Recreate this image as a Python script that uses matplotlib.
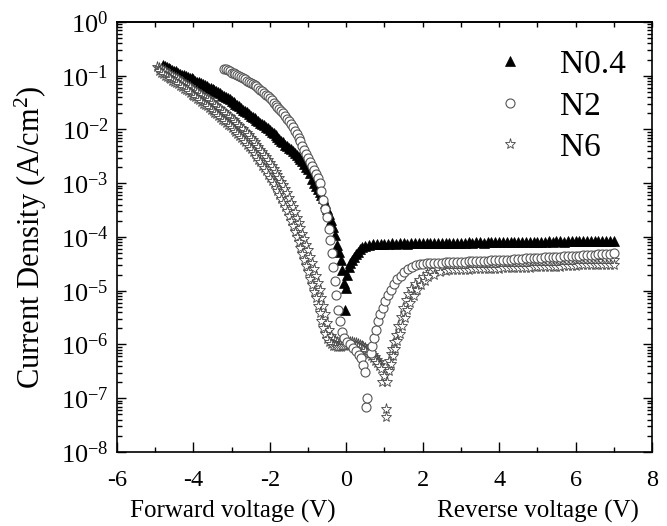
import numpy as np
import matplotlib
matplotlib.use("Agg")
import matplotlib.pyplot as plt
from matplotlib.ticker import LogLocator, MultipleLocator, NullFormatter
from matplotlib.lines import Line2D

plt.rcParams['font.family'] = ['Liberation Serif', 'DejaVu Serif']
plt.rcParams['mathtext.fontset'] = 'custom'
plt.rcParams['mathtext.rm'] = 'Liberation Serif'
plt.rcParams['mathtext.it'] = 'Liberation Serif:italic'
plt.rcParams['axes.unicode_minus'] = False

# DATA: voltage (V) and log10 of current density (A/cm2) #
v_n04 = [-4.80, -4.75, -4.70, -4.65, -4.60, -4.55, -4.50, -4.45, -4.40, -4.35,
         -4.30, -4.25, -4.20, -4.15, -4.10, -4.05, -4.00, -3.95, -3.90, -3.85,
         -3.80, -3.75, -3.70, -3.65, -3.60, -3.55, -3.50, -3.45, -3.40, -3.35,
         -3.30, -3.25, -3.20, -3.15, -3.10, -3.05, -3.00, -2.95, -2.90, -2.85,
         -2.80, -2.75, -2.70, -2.65, -2.60, -2.55, -2.50, -2.45, -2.40, -2.35,
         -2.30, -2.25, -2.20, -2.15, -2.10, -2.05, -2.00, -1.95, -1.90, -1.85,
         -1.80, -1.75, -1.70, -1.65, -1.60, -1.55, -1.50, -1.45, -1.40, -1.35,
         -1.30, -1.25, -1.20, -1.15, -1.10, -1.05, -1.00, -0.95, -0.90, -0.85,
         -0.80, -0.75, -0.70, -0.65, -0.60, -0.55, -0.50, -0.45, -0.40, -0.35,
         -0.30, -0.25, -0.20, -0.15, -0.10, -0.05, -0.03, 0.00, 0.03, 0.06,
         0.10, 0.15, 0.20, 0.25, 0.30, 0.35, 0.40, 0.50, 0.60, 0.70,
         0.80, 0.90, 1.0, 1.1, 1.2, 1.3, 1.4, 1.5, 1.6, 1.7,
         1.8, 1.9, 2.0, 2.1, 2.2, 2.3, 2.4, 2.5, 2.6, 2.7,
         2.8, 2.9, 3.0, 3.1, 3.2, 3.3, 3.4, 3.5, 3.6, 3.7,
         3.8, 3.9, 4.0, 4.1, 4.2, 4.3, 4.4, 4.5, 4.6, 4.7,
         4.8, 4.9, 5.0, 5.1, 5.2, 5.3, 5.4, 5.5, 5.6, 5.7,
         5.8, 5.9, 6.0, 6.1, 6.2, 6.3, 6.4, 6.5, 6.6, 6.7,
         6.8, 6.9, 7.0]
logj_n04 = [-0.80, -0.82, -0.84, -0.85, -0.87, -0.89, -0.91, -0.92, -0.94, -0.96,
            -0.98, -0.99, -1.01, -1.02, -1.04, -1.05, -1.07, -1.09, -1.11, -1.12,
            -1.14, -1.16, -1.18, -1.20, -1.22, -1.23, -1.25, -1.27, -1.29, -1.31,
            -1.33, -1.35, -1.38, -1.40, -1.42, -1.44, -1.47, -1.49, -1.52, -1.54,
            -1.57, -1.60, -1.63, -1.65, -1.68, -1.71, -1.74, -1.76, -1.79, -1.82,
            -1.85, -1.87, -1.90, -1.92, -1.95, -1.98, -2.01, -2.04, -2.07, -2.10,
            -2.14, -2.17, -2.21, -2.24, -2.28, -2.31, -2.34, -2.37, -2.40, -2.43,
            -2.47, -2.51, -2.55, -2.59, -2.64, -2.69, -2.74, -2.81, -2.92, -3.00,
            -3.06, -3.11, -3.16, -3.21, -3.27, -3.37, -3.47, -3.57, -3.68, -3.82,
            -3.97, -4.15, -4.28, -4.42, -4.62, -4.85, -5.36, -4.95, -4.70, -4.56,
            -4.49, -4.43, -4.37, -4.31, -4.27, -4.23, -4.19, -4.16, -4.14, -4.13,
            -4.13, -4.13, -4.13, -4.13, -4.12, -4.13, -4.12, -4.12, -4.13, -4.12,
            -4.12, -4.12, -4.12, -4.12, -4.11, -4.12, -4.11, -4.11, -4.12, -4.11,
            -4.11, -4.11, -4.11, -4.11, -4.10, -4.11, -4.10, -4.10, -4.11, -4.10,
            -4.10, -4.10, -4.10, -4.10, -4.10, -4.09, -4.10, -4.09, -4.09, -4.10,
            -4.09, -4.09, -4.09, -4.09, -4.09, -4.08, -4.09, -4.08, -4.08, -4.09,
            -4.08, -4.08, -4.08, -4.08, -4.08, -4.07, -4.08, -4.07, -4.07, -4.08,
            -4.07, -4.07, -4.07]

v_n2 = [-3.20, -3.15, -3.10, -3.05, -3.00, -2.95, -2.90, -2.85, -2.80, -2.75,
        -2.70, -2.65, -2.60, -2.55, -2.50, -2.45, -2.40, -2.35, -2.30, -2.25,
        -2.20, -2.15, -2.10, -2.05, -2.00, -1.95, -1.90, -1.85, -1.80, -1.75,
        -1.70, -1.65, -1.60, -1.55, -1.50, -1.45, -1.40, -1.35, -1.30, -1.25,
        -1.20, -1.15, -1.10, -1.05, -1.00, -0.95, -0.90, -0.85, -0.80, -0.75,
        -0.70, -0.65, -0.60, -0.55, -0.50, -0.46, -0.42, -0.38, -0.34, -0.30,
        -0.26, -0.22, -0.17, -0.11, -0.05, 0.02, 0.10, 0.18, 0.25, 0.32,
        0.38, 0.44, 0.49, 0.52, 0.54, 0.64, 0.68, 0.72, 0.77, 0.83,
        0.89, 0.95, 1.02, 1.09, 1.16, 1.24, 1.33, 1.42, 1.52, 1.62,
        1.72, 1.82, 1.92, 2.0, 2.1, 2.2, 2.3, 2.4, 2.5, 2.6,
        2.7, 2.8, 2.9, 3.0, 3.1, 3.2, 3.3, 3.4, 3.5, 3.6,
        3.7, 3.8, 3.9, 4.0, 4.1, 4.2, 4.3, 4.4, 4.5, 4.6,
        4.7, 4.8, 4.9, 5.0, 5.1, 5.2, 5.3, 5.4, 5.5, 5.6,
        5.7, 5.8, 5.9, 6.0, 6.1, 6.2, 6.3, 6.4, 6.5, 6.6,
        6.7, 6.8, 6.9, 7.0]
logj_n2 = [-0.87, -0.88, -0.90, -0.92, -0.94, -0.95, -0.97, -0.99, -1.01, -1.03,
           -1.05, -1.07, -1.09, -1.11, -1.13, -1.15, -1.18, -1.20, -1.23, -1.26,
           -1.29, -1.32, -1.35, -1.38, -1.42, -1.46, -1.50, -1.54, -1.58, -1.62,
           -1.66, -1.70, -1.75, -1.80, -1.85, -1.90, -1.96, -2.02, -2.08, -2.15,
           -2.22, -2.30, -2.38, -2.45, -2.53, -2.60, -2.67, -2.75, -2.83, -2.91,
           -3.00, -3.15, -3.32, -3.48, -3.63, -3.85, -4.06, -4.30, -4.55, -4.82,
           -5.08, -5.35, -5.57, -5.77, -5.88, -5.95, -6.00, -6.06, -6.12, -6.19,
           -6.26, -6.38, -6.51, -7.16, -7.00, -6.15, -6.02, -5.88, -5.73, -5.57,
           -5.44, -5.32, -5.20, -5.08, -4.98, -4.88, -4.79, -4.72, -4.65, -4.60,
           -4.56, -4.53, -4.51, -4.50, -4.49, -4.49, -4.48, -4.48, -4.48, -4.47,
           -4.47, -4.47, -4.46, -4.46, -4.46, -4.45, -4.45, -4.45, -4.44, -4.44,
           -4.44, -4.43, -4.43, -4.43, -4.42, -4.42, -4.42, -4.41, -4.41, -4.41,
           -4.40, -4.40, -4.40, -4.39, -4.39, -4.38, -4.38, -4.38, -4.37, -4.37,
           -4.36, -4.36, -4.36, -4.35, -4.35, -4.34, -4.34, -4.33, -4.33, -4.32,
           -4.32, -4.31, -4.31, -4.30]

# N6 shows two sweeps running side by side
v_n6_a = [-4.95, -4.90, -4.85, -4.80, -4.75, -4.70, -4.65, -4.60, -4.55, -4.50,
          -4.45, -4.40, -4.35, -4.30, -4.25, -4.20, -4.15, -4.10, -4.05, -4.00,
          -3.95, -3.90, -3.85, -3.80, -3.75, -3.70, -3.65, -3.60, -3.55, -3.50,
          -3.45, -3.40, -3.35, -3.30, -3.25, -3.20, -3.15, -3.10, -3.05, -3.00,
          -2.95, -2.90, -2.85, -2.80, -2.75, -2.70, -2.65, -2.60, -2.55, -2.50,
          -2.45, -2.40, -2.35, -2.30, -2.25, -2.20, -2.15, -2.10, -2.05, -2.00,
          -1.95, -1.90, -1.85, -1.80, -1.75, -1.70, -1.65, -1.60, -1.55, -1.50,
          -1.45, -1.40, -1.35, -1.30, -1.25, -1.20, -1.15, -1.10, -1.05, -1.00,
          -0.95, -0.90, -0.85, -0.80, -0.75, -0.70, -0.65, -0.60, -0.55, -0.50,
          -0.45, -0.40, -0.35, -0.30, -0.25, -0.20, -0.15, -0.10, -0.05, 0.00,
          0.05, 0.10, 0.15, 0.20, 0.25, 0.30, 0.35, 0.40, 0.45, 0.50,
          0.55, 0.60, 0.65, 0.70, 0.75, 0.80, 0.85, 0.88, 0.94, 1.04,
          1.08, 1.12, 1.16, 1.20, 1.25, 1.30, 1.36, 1.42, 1.48, 1.55,
          1.62, 1.70, 1.80, 1.90, 2.0, 2.1, 2.2, 2.3, 2.4, 2.5,
          2.6, 2.7, 2.8, 2.9, 3.0, 3.1, 3.2, 3.3, 3.4, 3.5,
          3.6, 3.7, 3.8, 3.9, 4.0, 4.1, 4.2, 4.3, 4.4, 4.5,
          4.6, 4.7, 4.8, 4.9, 5.0, 5.1, 5.2, 5.3, 5.4, 5.5,
          5.6, 5.7, 5.8, 5.9, 6.0, 6.1, 6.2, 6.3, 6.4, 6.5,
          6.6, 6.7, 6.8, 6.9, 7.0]
logj_n6_a = [-0.84, -0.85, -0.87, -0.89, -0.92, -0.94, -0.96, -0.98, -1.01, -1.03,
             -1.05, -1.07, -1.10, -1.12, -1.15, -1.17, -1.19, -1.21, -1.24, -1.26,
             -1.29, -1.31, -1.34, -1.36, -1.39, -1.41, -1.44, -1.46, -1.49, -1.51,
             -1.54, -1.57, -1.60, -1.62, -1.65, -1.68, -1.71, -1.74, -1.77, -1.80,
             -1.83, -1.86, -1.90, -1.93, -1.97, -2.00, -2.04, -2.07, -2.11, -2.15,
             -2.20, -2.24, -2.29, -2.33, -2.38, -2.42, -2.47, -2.52, -2.57, -2.62,
             -2.68, -2.73, -2.79, -2.85, -2.91, -2.97, -3.04, -3.11, -3.19, -3.27,
             -3.36, -3.45, -3.54, -3.64, -3.74, -3.84, -3.94, -4.04, -4.14, -4.25,
             -4.37, -4.49, -4.60, -4.72, -4.85, -4.98, -5.13, -5.28, -5.44, -5.60,
             -5.73, -5.84, -5.90, -5.94, -5.96, -5.97, -5.97, -5.97, -5.96, -5.96,
             -5.95, -5.95, -5.96, -5.97, -5.98, -6.00, -6.01, -6.03, -6.05, -6.07,
             -6.10, -6.13, -6.16, -6.20, -6.24, -6.28, -6.33, -6.38, -6.70, -7.20,
             -6.45, -6.30, -6.18, -6.08, -5.95, -5.82, -5.65, -5.48, -5.32, -5.18,
             -5.06, -4.96, -4.87, -4.80, -4.74, -4.69, -4.65, -4.62, -4.60, -4.58,
             -4.57, -4.56, -4.56, -4.56, -4.55, -4.55, -4.55, -4.54, -4.54, -4.54,
             -4.53, -4.53, -4.53, -4.52, -4.52, -4.52, -4.51, -4.51, -4.51, -4.50,
             -4.50, -4.50, -4.49, -4.49, -4.49, -4.48, -4.48, -4.48, -4.47, -4.47,
             -4.47, -4.46, -4.46, -4.46, -4.45, -4.45, -4.45, -4.45, -4.44, -4.44,
             -4.44, -4.44, -4.43, -4.43, -4.43]

v_n6_b = [-4.90, -4.85, -4.80, -4.75, -4.70, -4.65, -4.60, -4.55, -4.50, -4.45,
          -4.40, -4.35, -4.30, -4.25, -4.20, -4.15, -4.10, -4.05, -4.00, -3.95,
          -3.90, -3.85, -3.80, -3.75, -3.70, -3.65, -3.60, -3.55, -3.50, -3.45,
          -3.40, -3.35, -3.30, -3.25, -3.20, -3.15, -3.10, -3.05, -3.00, -2.95,
          -2.90, -2.85, -2.80, -2.75, -2.70, -2.65, -2.60, -2.55, -2.50, -2.45,
          -2.40, -2.35, -2.30, -2.25, -2.20, -2.15, -2.10, -2.05, -2.00, -1.95,
          -1.90, -1.85, -1.80, -1.75, -1.70, -1.65, -1.60, -1.55, -1.50, -1.45,
          -1.40, -1.35, -1.30, -1.25, -1.20, -1.15, -1.10, -1.05, -1.00, -0.95,
          -0.90, -0.85, -0.80, -0.75, -0.70, -0.65, -0.60, -0.55, -0.50, -0.45,
          -0.40, -0.35, -0.30, -0.25, -0.20, -0.15, -0.10, -0.05, 0.00, 0.05,
          0.10, 0.15, 0.20, 0.25, 0.30, 0.35, 0.40, 0.45, 0.50, 0.55,
          0.60, 0.65, 0.70, 0.75, 0.80, 0.85, 0.90, 0.98, 1.04, 1.07,
          1.12, 1.17, 1.22, 1.28, 1.34, 1.40, 1.46, 1.53, 1.60, 1.68,
          1.76, 1.85, 1.95, 2.05, 2.15, 2.3, 2.45, 2.6, 2.7, 2.8,
          2.9, 3.0, 3.1, 3.2, 3.3, 3.4, 3.5, 3.6, 3.7, 3.8,
          3.9, 4.0, 4.1, 4.2, 4.3, 4.4, 4.5, 4.6, 4.7, 4.8,
          4.9, 5.0, 5.1, 5.2, 5.3, 5.4, 5.5, 5.6, 5.7, 5.8,
          5.9, 6.0, 6.1, 6.2, 6.3, 6.4, 6.5, 6.6, 6.7, 6.8,
          6.9, 7.0]
logj_n6_b = [-0.92, -0.95, -0.97, -1.00, -1.02, -1.05, -1.07, -1.09, -1.11, -1.14,
             -1.16, -1.19, -1.21, -1.24, -1.27, -1.29, -1.32, -1.35, -1.38, -1.40,
             -1.43, -1.46, -1.49, -1.52, -1.55, -1.57, -1.60, -1.63, -1.66, -1.69,
             -1.72, -1.75, -1.79, -1.82, -1.85, -1.88, -1.91, -1.94, -1.98, -2.01,
             -2.05, -2.08, -2.12, -2.16, -2.20, -2.24, -2.28, -2.32, -2.37, -2.41,
             -2.46, -2.51, -2.56, -2.61, -2.67, -2.72, -2.78, -2.84, -2.90, -2.96,
             -3.02, -3.08, -3.15, -3.22, -3.29, -3.36, -3.44, -3.52, -3.61, -3.70,
             -3.80, -3.90, -4.00, -4.10, -4.21, -4.32, -4.43, -4.54, -4.66, -4.78,
             -4.90, -5.02, -5.14, -5.28, -5.42, -5.56, -5.70, -5.81, -5.90, -5.96,
             -6.00, -6.02, -6.03, -6.04, -6.04, -6.04, -6.03, -6.03, -6.02, -6.01,
             -6.01, -6.01, -6.02, -6.03, -6.05, -6.07, -6.09, -6.11, -6.13, -6.15,
             -6.18, -6.22, -6.26, -6.30, -6.35, -6.40, -6.45, -6.58, -7.35, -6.70,
             -6.50, -6.36, -6.22, -6.08, -5.94, -5.80, -5.65, -5.50, -5.36, -5.22,
             -5.10, -4.99, -4.89, -4.81, -4.75, -4.70, -4.66, -4.63, -4.62, -4.62,
             -4.62, -4.61, -4.61, -4.61, -4.60, -4.60, -4.60, -4.60, -4.59, -4.59,
             -4.59, -4.59, -4.58, -4.58, -4.58, -4.58, -4.57, -4.57, -4.57, -4.57,
             -4.56, -4.56, -4.56, -4.56, -4.55, -4.55, -4.55, -4.55, -4.54, -4.54,
             -4.54, -4.54, -4.53, -4.53, -4.53, -4.53, -4.52, -4.52, -4.52, -4.52,
             -4.52, -4.52]

labels = ['N0.4', 'N2', 'N6']
x_ticks = [-6, -4, -2, 0, 2, 4, 6, 8]

for v, j in [(v_n04, logj_n04), (v_n2, logj_n2), (v_n6_a, logj_n6_a), (v_n6_b, logj_n6_b)]:
    assert len(v) == len(j), (len(v), len(j))

# PLOT #
fig = plt.figure(figsize=(6.67, 5.26), dpi=100)
ax = fig.add_axes([0.1754, 0.1407, 0.8021, 0.8175])

tri = dict(marker='^', ms=7, mfc='black', mec='black', mew=0.5, ls='none')
circ = dict(marker='o', ms=6.5, mfc='white', mec='#555555', mew=0.8, ls='none')
star = dict(marker='*', ms=8, mfc='white', mec='#444444', mew=0.6, ls='none')

ax.plot(v_n04, 10 ** np.array(logj_n04), zorder=2, **tri)
ax.plot(v_n6_a, 10 ** np.array(logj_n6_a), zorder=3, **star)
ax.plot(v_n6_b, 10 ** np.array(logj_n6_b), zorder=3, **star)
ax.plot(v_n2, 10 ** np.array(logj_n2), zorder=4, **circ)

ax.set_yscale('log')
ax.set_ylim(1e-8, 1)
ax.set_xlim(-6, 8)
ax.set_xticks(x_ticks)
ax.set_xticklabels([str(t) for t in x_ticks])
ax.xaxis.set_minor_locator(MultipleLocator(1))
ax.yaxis.set_major_locator(LogLocator(base=10, numticks=20))
ax.yaxis.set_minor_locator(LogLocator(base=10, subs=np.arange(2, 10), numticks=20))
ax.yaxis.set_minor_formatter(NullFormatter())

for s in ax.spines.values():
    s.set_linewidth(1.2)

ax.tick_params(axis='both', which='both', direction='in', width=1.0)
ax.tick_params(axis='x', which='major', length=7, labelsize=17.5, pad=13)
ax.tick_params(axis='x', which='minor', length=3.5)
ax.tick_params(axis='y', which='major', length=6.5, labelsize=19, pad=6, right=True)
ax.tick_params(axis='y', which='minor', length=3.5, right=True)

top = ax.secondary_xaxis('top')
top.set_xticks(range(-6, 9))
top.tick_params(direction='in', length=3.5, width=1.0, labeltop=False)
top.spines['top'].set_linewidth(1.2)

handles = [Line2D([], [], **tri), Line2D([], [], **circ), Line2D([], [], **star)]
ax.legend(handles, labels, loc='upper right', bbox_to_anchor=(0.995, 0.99),
          frameon=False, fontsize=24, handlelength=1.0, handletextpad=1.0,
          labelspacing=0.33, borderpad=0.2)

fig.text(0.047, 1 - 237 / 526, 'Current Density (A/cm$^2$)', rotation=90,
         ha='center', va='center', fontsize=22)
fig.text(233 / 667, 1 - 511 / 526, 'Forward voltage (V)', ha='center', va='center', fontsize=18)
fig.text(538 / 667, 1 - 511 / 526, 'Reverse voltage (V)', ha='center', va='center', fontsize=18)

fig.savefig('out.png', dpi=100)
